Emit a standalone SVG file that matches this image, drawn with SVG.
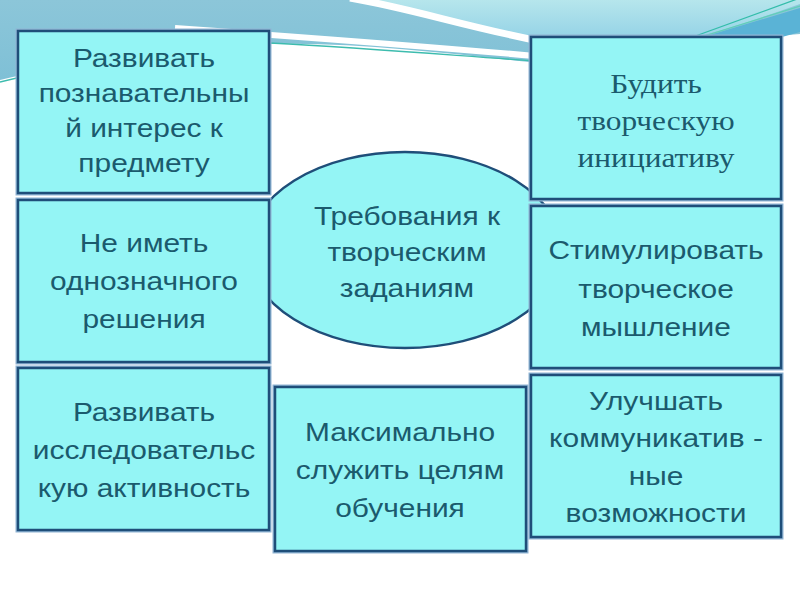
<svg xmlns="http://www.w3.org/2000/svg" width="800" height="600" viewBox="0 0 800 600">
<defs>
<linearGradient id="gTop" x1="0" y1="0" x2="0" y2="1">
<stop offset="0" stop-color="#8cc6d9"/><stop offset="1" stop-color="#7fc0d6"/>
</linearGradient>
<linearGradient id="gLight" x1="0" y1="0" x2="0" y2="1">
<stop offset="0" stop-color="#b6e6ec"/><stop offset="1" stop-color="#93d2e6"/>
</linearGradient>
<style>
.box{fill:#94f5f5;stroke:#1f4e79;stroke-width:2.5}
.shadow{fill:none;stroke:#8fb4d4;stroke-width:5}
.t{font-family:"Liberation Sans",Arial,sans-serif;font-size:26px;fill:#1b5a6d;text-anchor:middle}
.s{font-family:"Liberation Serif","Times New Roman",serif;font-size:28px;fill:#1b5a6d;text-anchor:middle}
</style>
</defs>
<rect width="800" height="600" fill="#ffffff"/>
<g id="background">
<path d="M0,0 H800 V34 C720,40 620,58 530,62 C450,54 360,42 270,44 C160,50 70,64 0,80 Z" fill="url(#gTop)"/>
<path d="M352,0 H800 V4 C760,18 720,32 690,38 L540,40 C470,26 420,8 352,0 Z" fill="url(#gLight)"/>
<path d="M700,38 L800,8 V32 L782,37 Z" fill="#5ab3d6"/>
<path d="M350,-2 C410,8 470,28 545,42" fill="none" stroke="#ffffff" stroke-width="7"/>
<path d="M175,28 C260,34 400,44 535,56" fill="none" stroke="#ffffff" stroke-width="6"/>
<path d="M270,43 C380,49 460,56 535,61" fill="none" stroke="#3dbcae" stroke-width="1.3"/>
<path d="M0,82 C40,72 80,64 120,58" fill="none" stroke="#3dbcae" stroke-width="1.3"/>
<path d="M690,38 L800,-2" fill="none" stroke="#33bdaa" stroke-width="1.3"/>
<path d="M698,38 L800,6" fill="none" stroke="#5fd0b8" stroke-width="1.2"/>
<rect x="782" y="37" width="18" height="500" fill="#ffffff"/>
</g>
<g id="center">
<ellipse cx="405" cy="250" rx="157" ry="98" fill="#94f5f5" stroke="#1f4e79" stroke-width="2.5"/>
<text class="t" transform="translate(407 0) scale(1.15 1)"><tspan x="0" y="225">Требования к</tspan><tspan x="0" y="261">творческим</tspan><tspan x="0" y="297">заданиям</tspan></text>
</g>
<g id="connectors"></g>
<g id="n1">
<rect class="shadow" x="18" y="31" width="251" height="162"/>
<rect class="box" x="18" y="31" width="251" height="162"/>
<text class="t" transform="translate(144 0) scale(1.15 1)"><tspan x="0" y="67">Развивать</tspan><tspan x="0" y="102">познавательны</tspan><tspan x="0" y="137">й интерес к</tspan><tspan x="0" y="172">предмету</tspan></text>
</g>
<g id="n2">
<rect class="shadow" x="18" y="200" width="251" height="162"/>
<rect class="box" x="18" y="200" width="251" height="162"/>
<text class="t" transform="translate(144 0) scale(1.15 1)"><tspan x="0" y="252">Не иметь</tspan><tspan x="0" y="290">однозначного</tspan><tspan x="0" y="328">решения</tspan></text>
</g>
<g id="n3">
<rect class="shadow" x="18" y="368" width="251" height="162"/>
<rect class="box" x="18" y="368" width="251" height="162"/>
<text class="t" transform="translate(144 0) scale(1.15 1)"><tspan x="0" y="421">Развивать</tspan><tspan x="0" y="459">исследовательс</tspan><tspan x="0" y="497">кую активность</tspan></text>
</g>
<g id="n4">
<rect class="shadow" x="275" y="387" width="251" height="164"/>
<rect class="box" x="275" y="387" width="251" height="164"/>
<text class="t" transform="translate(400 0) scale(1.15 1)"><tspan x="0" y="441">Максимально</tspan><tspan x="0" y="479">служить целям</tspan><tspan x="0" y="517">обучения</tspan></text>
</g>
<g id="n5">
<rect class="shadow" x="531" y="37" width="250" height="162"/>
<rect class="box" x="531" y="37" width="250" height="162"/>
<text class="s" transform="translate(656 0) scale(1.12 1)"><tspan x="0" y="93">Будить</tspan><tspan x="0" y="130">творческую</tspan><tspan x="0" y="167">инициативу</tspan></text>
</g>
<g id="n6">
<rect class="shadow" x="531" y="206" width="250" height="162"/>
<rect class="box" x="531" y="206" width="250" height="162"/>
<text class="t" transform="translate(656 0) scale(1.15 1)"><tspan x="0" y="259">Стимулировать</tspan><tspan x="0" y="298">творческое</tspan><tspan x="0" y="336">мышление</tspan></text>
</g>
<g id="n7">
<rect class="shadow" x="531" y="375" width="250" height="162"/>
<rect class="box" x="531" y="375" width="250" height="162"/>
<text class="t" transform="translate(656 0) scale(1.15 1)"><tspan x="0" y="410">Улучшать</tspan><tspan x="0" y="447">коммуникатив -</tspan><tspan x="0" y="485">ные</tspan><tspan x="0" y="522">возможности</tspan></text>
</g>
</svg>
